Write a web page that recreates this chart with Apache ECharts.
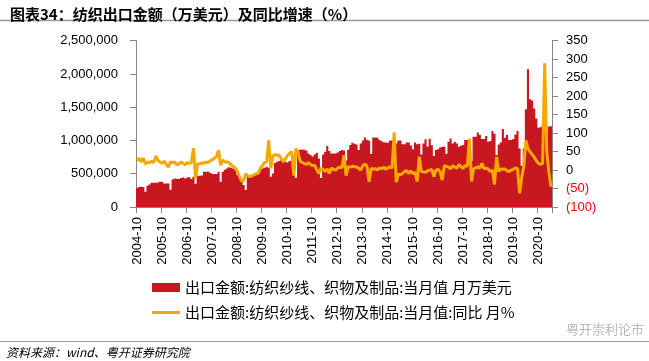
<!DOCTYPE html>
<html><head><meta charset="utf-8">
<script src="https://cdn.jsdelivr.net/npm/echarts@6/dist/echarts.min.js"></script>
<style>html,body{margin:0;padding:0;background:#fff}#c{width:649px;height:361px}</style>
</head><body><div id="c"></div>
<script>
// categories: monthly, 2004-10 .. 2021-04
const startYear = 2004, startMonth = 10, monthCount = 199;
const categories = [];
for (let k = 0; k < monthCount; k++) {
  const m = startMonth - 1 + k;
  const y = startYear + Math.floor(m / 12);
  const mm = (m % 12) + 1;
  categories.push(y + '-' + (mm < 10 ? '0' + mm : mm));
}

// 出口金额 (万美元), by year
const value2004 = [285000, 300000, 305000];
const value2005 = [300000, 230000, 320000, 340000, 365000, 365000, 365000, 370000, 380000, 380000, 355000, 355000];
const value2006 = [355000, 260000, 415000, 430000, 425000, 420000, 435000, 445000, 430000, 445000, 450000, 420000];
const value2007 = [455000, 350000, 470000, 470000, 475000, 530000, 530000, 535000, 515000, 500000, 495000, 495000];
const value2008 = [530000, 380000, 530000, 560000, 580000, 596000, 590000, 580000, 556000, 480000, 440000, 420000];
const value2009 = [330000, 255000, 455000, 470000, 480000, 490000, 505000, 500000, 560000, 580000, 590000, 606000];
const value2010 = [590000, 455000, 505000, 660000, 680000, 690000, 705000, 690000, 680000, 670000, 690000, 700000];
const value2011 = [720000, 440000, 845000, 860000, 866000, 860000, 850000, 806000, 780000, 760000, 790000, 815000];
const value2012 = [730000, 435000, 790000, 830000, 916000, 840000, 806000, 806000, 806000, 820000, 840000, 856000];
const value2013 = [850000, 700000, 860000, 931000, 965000, 950000, 940000, 856000, 955000, 1000000, 1046000, 1010000];
const value2014 = [1000000, 800000, 1046000, 1046000, 1040000, 1006000, 990000, 975000, 970000, 965000, 1000000, 1000000];
const value2015 = [1000000, 955000, 1000000, 1000000, 945000, 945000, 970000, 970000, 925000, 870000, 970000, 945000];
const value2016 = [950000, 790000, 955000, 1020000, 910000, 1025000, 930000, 766000, 856000, 870000, 896000, 906000];
const value2017 = [906000, 800000, 981000, 1031000, 956000, 981000, 956000, 906000, 920000, 931000, 1006000, 1006000];
const value2018 = [1021000, 691000, 1056000, 1056000, 1121000, 1081000, 1021000, 1021000, 1066000, 981000, 991000, 1141000];
const value2019 = [1100000, 781000, 941000, 971000, 1171000, 1041000, 1081000, 1006000, 1006000, 1021000, 1091000, 1141000];
const value2020 = [881000, 620000, 881000, 1470000, 2070000, 1620000, 1600000, 1480000, 1330000, 1190000, 1200000, 1230000];
const value2021 = [1230000, 1100000, 1210000, 1215000];

// 同比 (%), by year
const yoy2004 = [25, 32, 22];
const yoy2005 = [33, 16, 22, 20, 24, 20, 38, 26, 22, 18, 24, 16];
const yoy2006 = [8, 22, 20, 22, 14, 16, 22, 18, 14, 20, 18, 20];
const yoy2007 = [59, -23, 18, 16, 20, 18, 22, 20, 25, 28, 32, 36];
const yoy2008 = [54, 13, 27, 22, 22, 20, 14, 10, 5, -4, -18, -30];
const yoy2009 = [-28, -10, -16, -18, -15, -13, -10, -9, 5, 12, 20, 22];
const yoy2010 = [80, 5, 38, 42, 40, 40, 30, 22, 30, 40, 45, 50];
const yoy2011 = [-15, 58, 48, 25, 20, 18, 15, 20, 15, 12, 13, 0];
const yoy2012 = [-9, 5, 2, -4, 3, -9, 5, 2, 0, 5, 8, 6];
const yoy2013 = [40, -15, 9, 8, 10, 9, 8, 5, 0, 12, 16, 10];
const yoy2014 = [-32, 5, 2, 4, 0, 6, 3, 8, 2, 6, 9, 5];
const yoy2015 = [102, -33, -10, -13, -9, -4, -2, -9, -2, -10, -6, -31];
const yoy2016 = [36, -4, -5, -6, -2, 0, 2, -18, 0, 2, -5, -27];
const yoy2017 = [12, 10, 8, 3, 12, 8, 5, 15, 9, 4, 13, 10];
const yoy2018 = [85, -31, 4, 6, 9, 5, 18, 4, 5, 3, -4, 0];
const yoy2019 = [-39, 36, -4, 3, 2, 3, -2, -4, 0, 2, 6, 4];
const yoy2020 = [-63, -20, 10, 80, 58, 50, 42, 35, 25, 18, 15, 18];
const yoy2021 = [289, 50, -5, -45];

const exportValues = [].concat(value2004, value2005, value2006, value2007, value2008, value2009, value2010, value2011,
  value2012, value2013, value2014, value2015, value2016, value2017, value2018, value2019, value2020, value2021);
const yoyValues = [].concat(yoy2004, yoy2005, yoy2006, yoy2007, yoy2008, yoy2009, yoy2010, yoy2011,
  yoy2012, yoy2013, yoy2014, yoy2015, yoy2016, yoy2017, yoy2018, yoy2019, yoy2020, yoy2021);

const leftAxis = {min: 0, max: 2500000, interval: 500000};
const rightAxis = {min: -100, max: 350, interval: 50};

const barName = '出口金额:纺织纱线、织物及制品:当月值 月万美元';
const lineName = '出口金额:纺织纱线、织物及制品:当月值:同比 月%';
const titleText = '图表34：纺织出口金额（万美元）及同比增速（%）';
const sourceText = '资料来源：wind、粤开证券研究院';

const cjk = '"Noto Sans CJK SC", "Noto Sans", sans-serif';
const num = '"Liberation Sans", Arial, sans-serif';
const axisGray = '#868686';
const barColor = '#C8171E';
const lineColor = '#F5A800';

const chart = echarts.init(document.getElementById('c'), null, {renderer: 'canvas'});
chart.setOption({
  animation: false,
  backgroundColor: '#ffffff',
  title: {
    text: titleText, left: 5, top: 2,
    textStyle: {fontFamily: cjk, fontSize: 15, fontWeight: 'bold', color: '#000'}
  },
  graphic: [
    {type: 'line', shape: {x1: 0, y1: 20.5, x2: 649, y2: 20.5}, style: {stroke: '#9a9a9a', lineWidth: 1.5}},
    {type: 'line', shape: {x1: 0, y1: 341.5, x2: 649, y2: 341.5}, style: {stroke: '#9a9a9a', lineWidth: 1.2}},
    {type: 'text', left: 6, top: 346, style: {text: sourceText, font: 'italic 12px ' + cjk, fill: '#000'}},
    {type: 'text', left: 566, top: 323, style: {text: '粤开崇利论市', font: '13px ' + cjk, fill: '#b8b8b8'}}
  ],
  legend: {
    orient: 'vertical', left: 152, top: 280, padding: 0, itemWidth: 28, itemHeight: 9, itemGap: 10,
    textStyle: {fontFamily: cjk, fontSize: 15, color: '#000'},
    data: [
      {name: barName, icon: 'rect', itemStyle: {color: barColor}},
      {name: lineName, icon: 'path://M0,0L28,0L28,3L0,3Z', itemStyle: {color: lineColor}}
    ]
  },
  grid: {left: 136, right: 97, top: 40.7, bottom: 154, containLabel: false},
  xAxis: {
    type: 'category', data: categories, boundaryGap: true,
    axisLine: {show: true, lineStyle: {color: axisGray, width: 1}},
    axisTick: {show: true, interval: 11, length: 6, lineStyle: {color: axisGray}},
    axisLabel: {interval: 11, rotate: 90, margin: 10, fontFamily: num, fontSize: 13, color: '#000'},
    splitLine: {show: false}
  },
  yAxis: [
    {
      type: 'value', min: leftAxis.min, max: leftAxis.max, interval: leftAxis.interval, position: 'left',
      axisLine: {show: true, lineStyle: {color: axisGray}},
      axisTick: {show: true, length: 6, lineStyle: {color: axisGray}},
      axisLabel: {margin: 18, fontFamily: num, fontSize: 13, color: '#000',
        formatter: v => v.toString().replace(/\B(?=(\d{3})+(?!\d))/g, ',')},
      splitLine: {show: false}
    },
    {
      type: 'value', min: rightAxis.min, max: rightAxis.max, interval: rightAxis.interval, position: 'right',
      axisLine: {show: true, lineStyle: {color: axisGray}},
      axisTick: {show: true, length: 6, lineStyle: {color: axisGray}},
      axisLabel: {margin: 14, fontFamily: num, fontSize: 13, color: '#000',
        formatter: v => v < 0 ? '{neg|(' + (-v) + ')}' : String(v),
        rich: {neg: {color: '#ff0000', fontFamily: num, fontSize: 13}}},
      splitLine: {show: false}
    }
  ],
  series: [
    {
      name: barName, type: 'bar', data: exportValues, yAxisIndex: 0,
      large: true, largeThreshold: 50,
      barCategoryGap: '0%', itemStyle: {color: barColor}, z: 2
    },
    {
      name: lineName, type: 'line', data: yoyValues, yAxisIndex: 1,
      symbol: 'none', showSymbol: false, lineStyle: {color: lineColor, width: 3},
      itemStyle: {color: lineColor}, z: 3
    }
  ]
});
</script></body></html>
